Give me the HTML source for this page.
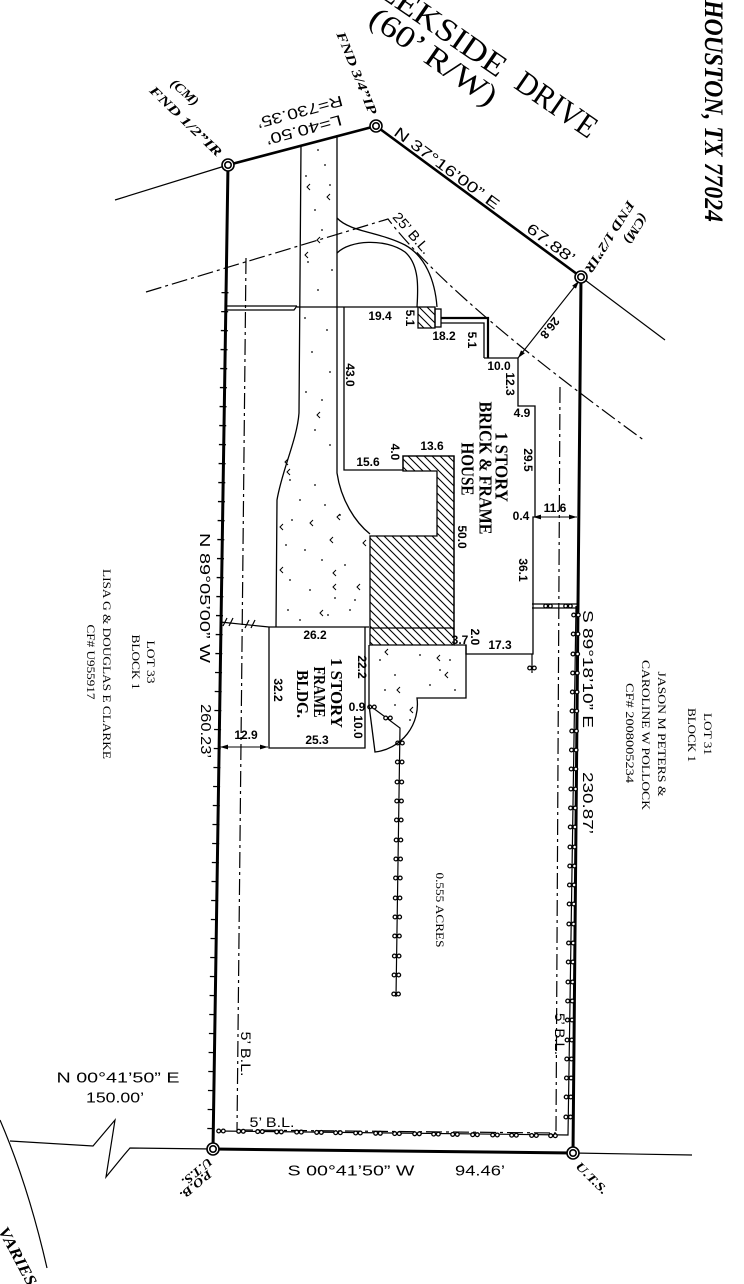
<!DOCTYPE html>
<html><head><meta charset="utf-8"><style>
html,body{margin:0;padding:0;background:#fff;}
svg{display:block;}
.s{font-family:"Liberation Sans",sans-serif;fill:#000;}
.d{font-family:"Liberation Sans",sans-serif;font-weight:bold;font-size:12px;fill:#000;}
.bi{font-family:"Liberation Serif",serif;font-weight:bold;font-style:italic;fill:#000;}
.bs{font-family:"Liberation Serif",serif;font-weight:bold;fill:#000;}
.r{font-family:"Liberation Serif",serif;fill:#000;}
</style></head><body>
<svg width="744" height="1284" viewBox="0 0 744 1284" xmlns="http://www.w3.org/2000/svg">
<defs>
<pattern id="h" patternUnits="userSpaceOnUse" width="8" height="8"><path d="M0,0 L8,8 M-1,7 L1,9 M7,-1 L9,1" stroke="#000" stroke-width="1.1"/></pattern>
<g id="m"><circle cx="-2.3" cy="0" r="1.9" fill="#fff" stroke="#000" stroke-width="1.3"/><circle cx="2.3" cy="0" r="1.9" fill="#fff" stroke="#000" stroke-width="1.3"/></g>
<marker id="a" viewBox="0 0 10 10" refX="10" refY="5" markerWidth="8" markerHeight="8" orient="auto-start-reverse" markerUnits="userSpaceOnUse"><path d="M0,2 L10,5 L0,8z" fill="#000"/></marker>
</defs>
<rect width="744" height="1284" fill="#fff"/>

<!-- thin extension lines -->
<g fill="none" stroke="#000" stroke-width="1.2">
<path d="M115,200 L228,165"/>
<path d="M581,277 L665,340"/>
<path d="M573,1153 L692,1155"/>
<path d="M10,1141 L93,1146 L115,1120 L106,1177 L124,1155 L130,1148 L213,1149"/>
<path d="M0,1120 Q28,1185 47,1268"/>
</g>

<!-- building lines (dash-dot) -->
<g fill="none" stroke="#000" stroke-width="1.2" stroke-dasharray="16 4 3 4">
<path d="M146,292 L388,219 Q450,300 645,441"/>
<path d="M246,258 L237,1131"/>
<path d="M560,387 L556,1131"/>
<path d="M237,1130 L556,1133"/>
</g>

<!-- boundary -->
<g fill="none" stroke="#000" stroke-linecap="round">
<path d="M228,165 L213,1149" stroke-width="3"/>
<path d="M581,277 L573,1153" stroke-width="3"/>
<path d="M213,1149 L573,1153" stroke-width="3"/>
<path d="M228,165 L376,126" stroke-width="2.6"/>
<path d="M376,126 L581,277" stroke-width="2.6"/>
<path d="M225,292 L210.6,1140" stroke-width="7" stroke-dasharray="1.3 17.7" stroke-linecap="butt"/>
</g>

<!-- fences -->
<g fill="none" stroke="#000" stroke-width="1.2">
<path d="M576,606 L568,1135 L218,1131"/>
<path d="M369,705 L400,728 L396,997"/>
<path d="M532,604 L577,604 M532,608 L577,608"/>
<path d="M532,654 L532,673"/>
<path d="M220,622 L269,627"/>
<path d="M223,626 L227,618 M229,626 L233,618 M245,628 L249,620 M251,628 L255,620"/>
</g>
<g>
<use href="#m" x="576" y="615"/><use href="#m" x="575.6" y="634"/><use href="#m" x="575.3" y="654"/><use href="#m" x="575" y="673"/><use href="#m" x="574.7" y="692"/><use href="#m" x="574.4" y="711"/><use href="#m" x="574.1" y="731"/><use href="#m" x="573.8" y="750"/><use href="#m" x="573.5" y="769"/><use href="#m" x="573.2" y="789"/><use href="#m" x="572.9" y="808"/><use href="#m" x="572.6" y="827"/><use href="#m" x="572.3" y="847"/><use href="#m" x="572.1" y="866"/><use href="#m" x="571.8" y="885"/><use href="#m" x="571.5" y="904"/><use href="#m" x="571.2" y="924"/><use href="#m" x="570.9" y="943"/><use href="#m" x="570.6" y="962"/><use href="#m" x="570.3" y="982"/><use href="#m" x="570" y="1001"/><use href="#m" x="569.7" y="1020"/><use href="#m" x="569.4" y="1040"/><use href="#m" x="569.1" y="1059"/><use href="#m" x="568.8" y="1078"/><use href="#m" x="568.5" y="1097"/><use href="#m" x="568.2" y="1117"/>
<use href="#m" x="221" y="1131"/><use href="#m" x="241" y="1131.3"/><use href="#m" x="260" y="1131.6"/><use href="#m" x="279" y="1131.9"/><use href="#m" x="299" y="1132.1"/><use href="#m" x="319" y="1132.4"/><use href="#m" x="338" y="1132.7"/><use href="#m" x="358" y="1133"/><use href="#m" x="378" y="1133.3"/><use href="#m" x="397" y="1133.6"/><use href="#m" x="417" y="1133.8"/><use href="#m" x="436" y="1134.1"/><use href="#m" x="455" y="1134.4"/><use href="#m" x="475" y="1134.7"/><use href="#m" x="495" y="1135"/><use href="#m" x="514" y="1135.2"/><use href="#m" x="534" y="1135.5"/><use href="#m" x="553" y="1135.7"/>
<use href="#m" x="372" y="707"/><use href="#m" x="388" y="718"/><use href="#m" x="400" y="743"/><use href="#m" x="399.7" y="762"/><use href="#m" x="399.4" y="782"/><use href="#m" x="399.1" y="801"/><use href="#m" x="398.8" y="820"/><use href="#m" x="398.5" y="840"/><use href="#m" x="398.2" y="859"/><use href="#m" x="397.9" y="878"/><use href="#m" x="397.6" y="898"/><use href="#m" x="397.3" y="917"/><use href="#m" x="397" y="936"/><use href="#m" x="396.7" y="956"/><use href="#m" x="396.4" y="975"/><use href="#m" x="396.1" y="994"/>
<use href="#m" x="548" y="606"/><use href="#m" x="568" y="606"/><use href="#m" x="532" y="668"/>
</g>

<!-- house, driveway, structures -->
<g fill="none" stroke="#000" stroke-width="1.3">
<path d="M226,306 L297,306 M226,310 L294,310 L297,306 M297,307 L418,307"/>
<path d="M301,145 L299,413 C297,440 282,470 277,500 L276,627"/>
<path d="M337,135 L337,473 C341,500 355,522 370,534"/>
<path d="M337,218 C350,232 380,232 405,245 C425,256 435,280 437,307"/>
<path d="M337,253 C350,240 385,238 405,252 C420,265 418,290 417,307"/>
<path d="M344,307 L344,470 L403,470 L403,456 L454,456 L454,645"/>
<path d="M403,456 L454,456 L454,645 L370,645 L370,536 L437,536 L437,471 L403,471 Z" fill="url(#h)"/>
<path d="M370,628 L454,628"/>
<rect x="418" y="307" width="17" height="21" fill="url(#h)"/>
<rect x="435" y="309" width="6" height="18"/>
<path d="M441,318 L488,318 L488,358" stroke-width="2.2"/>
<path d="M441,323 L484,323 L484,358"/>
<path d="M484,358 L518,358 L518,406 L535,406 L535,517 L533,517 L533,654 L466,654 L466,645"/>
<path d="M454,645 L466,645 L466,698 L417,698 A48,48 0 0 1 375,752 L369,705 M369,645 L369,705"/>
<path d="M269,627 L369,627 M269,627 L269,748 L365,748 L365,627"/>
<path d="M518,358 L579,281" marker-start="url(#a)" marker-end="url(#a)" stroke-width="1.1"/>
<path d="M533,517 L577,517" marker-start="url(#a)" marker-end="url(#a)" stroke-width="1.1"/>
<path d="M220,747 L268,747" marker-start="url(#a)" marker-end="url(#a)" stroke-width="1.1"/>
</g>

<!-- stipple -->
<g fill="#000">
<circle cx="318" cy="150" r="0.9"/><circle cx="325" cy="165" r="0.9"/><circle cx="306" cy="176" r="0.9"/><circle cx="330" cy="185" r="0.9"/><circle cx="315" cy="210" r="0.9"/><circle cx="322" cy="230" r="0.9"/><circle cx="308" cy="262" r="0.9"/><circle cx="332" cy="270" r="0.9"/><circle cx="318" cy="290" r="0.9"/><circle cx="305" cy="318" r="0.9"/><circle cx="327" cy="330" r="0.9"/><circle cx="312" cy="352" r="0.9"/><circle cx="330" cy="372" r="0.9"/><circle cx="306" cy="392" r="0.9"/><circle cx="322" cy="400" r="0.9"/><circle cx="315" cy="430" r="0.9"/><circle cx="330" cy="445" r="0.9"/>
<circle cx="290" cy="480" r="0.9"/><circle cx="300" cy="500" r="0.9"/><circle cx="315" cy="485" r="0.9"/><circle cx="325" cy="505" r="0.9"/><circle cx="292" cy="520" r="0.9"/><circle cx="340" cy="515" r="0.9"/><circle cx="286" cy="545" r="0.9"/><circle cx="305" cy="550" r="0.9"/><circle cx="322" cy="560" r="0.9"/><circle cx="345" cy="565" r="0.9"/><circle cx="290" cy="580" r="0.9"/><circle cx="310" cy="590" r="0.9"/><circle cx="335" cy="598" r="0.9"/><circle cx="355" cy="600" r="0.9"/><circle cx="288" cy="610" r="0.9"/><circle cx="300" cy="620" r="0.9"/><circle cx="328" cy="615" r="0.9"/><circle cx="350" cy="610" r="0.9"/>
<circle cx="380" cy="660" r="0.9"/><circle cx="395" cy="675" r="0.9"/><circle cx="420" cy="655" r="0.9"/><circle cx="440" cy="670" r="0.9"/><circle cx="455" cy="690" r="0.9"/><circle cx="385" cy="690" r="0.9"/><circle cx="430" cy="685" r="0.9"/><circle cx="410" cy="720" r="0.9"/><circle cx="395" cy="705" r="0.9"/><circle cx="450" cy="660" r="0.9"/>
</g>
<g fill="none" stroke="#000" stroke-width="1">
<path d="M310,184 l-3,3 l3,3 M330,194 l-3,3 l3,3 M308,252 l-3,3 l3,3 M320,237 l-3,3 l3,3 M320,412 l-3,3 l3,3 M288,459 l-3,3 l3,3 M290,469 l-3,3 l3,3 M283,524 l-3,3 l3,3 M313,520 l-3,3 l3,3 M340,514 l-3,3 l3,3 M333,537 l-3,3 l3,3 M283,567 l-3,3 l3,3 M336,570 l-3,3 l3,3 M336,584 l-3,3 l3,3 M360,584 l-3,3 l3,3 M323,610 l-3,3 l3,3 M366,540 l-3,3 l3,3"/>
<path d="M388,649 l-3,3 l3,3 M440,655 l-3,3 l3,3 M448,672 l-3,3 l3,3 M400,687 l-3,3 l3,3 M413,707 l-3,3 l3,3"/>
</g>

<!-- monuments -->
<g fill="#fff" stroke="#000" stroke-width="1.6">
<circle cx="228" cy="165" r="6"/><circle cx="228" cy="165" r="3.2"/>
<circle cx="376" cy="126" r="6"/><circle cx="376" cy="126" r="3.2"/>
<circle cx="581" cy="277" r="6"/><circle cx="581" cy="277" r="3.2"/>
<circle cx="213" cy="1149" r="6"/><circle cx="213" cy="1149" r="3.2"/>
<circle cx="573" cy="1153" r="6"/><circle cx="573" cy="1153" r="3.2"/>
</g>

<!-- street / headers -->
<text class="r" font-size="32" text-anchor="end" dy="0.35em" textLength="196" lengthAdjust="spacingAndGlyphs" transform="translate(504,69) rotate(34.6)">CREEKSIDE</text>
<text class="r" font-size="32" text-anchor="middle" dy="0.35em" textLength="92" lengthAdjust="spacingAndGlyphs" transform="translate(557,104) rotate(34.6)">DRIVE</text>
<text class="r" font-size="31" text-anchor="middle" dy="0.35em" textLength="148" lengthAdjust="spacingAndGlyphs" transform="translate(434,56) rotate(34.8)">(60’ R/W)</text>
<text class="bi" font-size="26" text-anchor="middle" dy="0.35em" textLength="222" lengthAdjust="spacingAndGlyphs" transform="translate(714,111) rotate(90)">HOUSTON, TX 77024</text>

<text class="bi" font-size="13" text-anchor="middle" dy="0.35em" textLength="88" lengthAdjust="spacingAndGlyphs" transform="translate(357,73) rotate(68)">FND 3/4”IP</text>
<text class="bi" font-size="13" text-anchor="middle" dy="0.35em" textLength="33" lengthAdjust="spacingAndGlyphs" transform="translate(185,92) rotate(42)">(CM)</text>
<text class="bi" font-size="13" text-anchor="middle" dy="0.35em" textLength="95" lengthAdjust="spacingAndGlyphs" transform="translate(186,121) rotate(44)">FND 1/2”IR</text>
<text class="bi" font-size="13" text-anchor="middle" dy="0.35em" textLength="82" lengthAdjust="spacingAndGlyphs" transform="translate(610,237) rotate(122)">FND 1/2”IR</text>
<text class="bi" font-size="13" text-anchor="middle" dy="0.35em" textLength="33" lengthAdjust="spacingAndGlyphs" transform="translate(636,229) rotate(122)">(CM)</text>
<text class="bi" font-size="12" text-anchor="middle" dy="0.35em" textLength="38" lengthAdjust="spacingAndGlyphs" transform="translate(196,1185) rotate(140)">P.O.B.</text>
<text class="bi" font-size="12" text-anchor="middle" dy="0.35em" textLength="36" lengthAdjust="spacingAndGlyphs" transform="translate(197,1172) rotate(140)">U.T.S.</text>
<text class="bi" font-size="12" text-anchor="middle" dy="0.35em" textLength="40" lengthAdjust="spacingAndGlyphs" transform="translate(592,1178) rotate(45)">U.T.S.</text>
<text class="bi" font-size="16" text-anchor="middle" dy="0.35em" textLength="64" lengthAdjust="spacingAndGlyphs" transform="translate(18,1256) rotate(62)">VARIES</text>

<!-- bearings and distances -->
<g class="s" font-size="15" text-anchor="middle">
<text dy="0.35em" textLength="130" lengthAdjust="spacingAndGlyphs" transform="translate(205,598) rotate(90)">N 89°05’00”  W</text>
<text dy="0.35em" textLength="54" lengthAdjust="spacingAndGlyphs" transform="translate(206,731) rotate(90)">260.23’</text>
<text dy="0.35em" textLength="118" lengthAdjust="spacingAndGlyphs" transform="translate(588,669) rotate(90)">S 89°18’10” E</text>
<text dy="0.35em" textLength="62" lengthAdjust="spacingAndGlyphs" transform="translate(588,803) rotate(90)">230.87’</text>
<text dy="0.35em" textLength="127" lengthAdjust="spacingAndGlyphs" transform="translate(351,1170)">S 00°41’50”  W</text>
<text dy="0.35em" textLength="50" lengthAdjust="spacingAndGlyphs" transform="translate(480,1170)">94.46’</text>
<text dy="0.35em" textLength="123" lengthAdjust="spacingAndGlyphs" transform="translate(118,1077)">N 00°41’50”  E</text>
<text dy="0.35em" textLength="58" lengthAdjust="spacingAndGlyphs" transform="translate(115,1097)">150.00’</text>
<text dy="0.35em" textLength="127" lengthAdjust="spacingAndGlyphs" transform="translate(447,168) rotate(36.5)">N 37°16’00”  E</text>
<text dy="0.35em" textLength="56" lengthAdjust="spacingAndGlyphs" transform="translate(551,243) rotate(36.5)">67.88’</text>
<text dy="0.35em" textLength="78" lengthAdjust="spacingAndGlyphs" transform="translate(304,130) rotate(165)">L=40.50’</text>
<text dy="0.35em" textLength="88" lengthAdjust="spacingAndGlyphs" transform="translate(300,112) rotate(165)">R=730.35’</text>
</g>
<g class="s" font-size="14" text-anchor="middle">
<text dy="0.35em" textLength="50" lengthAdjust="spacingAndGlyphs" transform="translate(412,233) rotate(49)">25’ B.L.</text>
<text dy="0.35em" textLength="45" lengthAdjust="spacingAndGlyphs" transform="translate(246,1054) rotate(90)">5’ B.L.</text>
<text dy="0.35em" textLength="42" lengthAdjust="spacingAndGlyphs" transform="translate(560,1034) rotate(90)">5’ B.L.</text>
<text dy="0.35em" textLength="45" lengthAdjust="spacingAndGlyphs" transform="translate(272,1122)">5’ B.L.</text>
</g>

<!-- dimension labels -->
<g class="d" text-anchor="middle">
<text dy="0.35em" transform="translate(380,316)">19.4</text>
<text dy="0.35em" transform="translate(410,318) rotate(90)">5.1</text>
<text dy="0.35em" transform="translate(444,336)">18.2</text>
<text dy="0.35em" transform="translate(472,340) rotate(90)">5.1</text>
<text dy="0.35em" transform="translate(499,366)">10.0</text>
<text dy="0.35em" transform="translate(510,384) rotate(90)">12.3</text>
<text dy="0.35em" transform="translate(522,413)">4.9</text>
<text dy="0.35em" transform="translate(528,460) rotate(90)">29.5</text>
<text dy="0.35em" transform="translate(521,516)">0.4</text>
<text dy="0.35em" transform="translate(555,508)">11.6</text>
<text dy="0.35em" transform="translate(523,570) rotate(90)">36.1</text>
<text dy="0.35em" transform="translate(350,375) rotate(90)">43.0</text>
<text dy="0.35em" transform="translate(368,462)">15.6</text>
<text dy="0.35em" transform="translate(395,452) rotate(90)">4.0</text>
<text dy="0.35em" transform="translate(432,446)">13.6</text>
<text dy="0.35em" transform="translate(462,537) rotate(90)">50.0</text>
<text dy="0.35em" transform="translate(315,635)">26.2</text>
<text dy="0.35em" transform="translate(278,690) rotate(90)">32.2</text>
<text dy="0.35em" transform="translate(317,740)">25.3</text>
<text dy="0.35em" transform="translate(362,667) rotate(90)">22.2</text>
<text dy="0.35em" transform="translate(357,707)">0.9</text>
<text dy="0.35em" transform="translate(358,727) rotate(90)">10.0</text>
<text dy="0.35em" transform="translate(246,735)">12.9</text>
<text dy="0.35em" transform="translate(460,640)">3.7</text>
<text dy="0.35em" transform="translate(475,637) rotate(90)">2.0</text>
<text dy="0.35em" transform="translate(500,645)">17.3</text>
<text dy="0.35em" transform="translate(550,328) rotate(128)">26.8</text>
</g>

<!-- building labels -->
<g class="bs" font-size="18" text-anchor="middle">
<text dy="0.35em" textLength="70" lengthAdjust="spacingAndGlyphs" transform="translate(502,467) rotate(90)">1 STORY</text>
<text dy="0.35em" textLength="133" lengthAdjust="spacingAndGlyphs" transform="translate(486,468) rotate(90)">BRICK &amp; FRAME</text>
<text dy="0.35em" textLength="53" lengthAdjust="spacingAndGlyphs" transform="translate(468,469) rotate(90)">HOUSE</text>
</g>
<g class="bs" font-size="17" text-anchor="middle">
<text dy="0.35em" textLength="70" lengthAdjust="spacingAndGlyphs" transform="translate(337,693) rotate(90)">1 STORY</text>
<text dy="0.35em" textLength="51" lengthAdjust="spacingAndGlyphs" transform="translate(320,692) rotate(90)">FRAME</text>
<text dy="0.35em" textLength="48" lengthAdjust="spacingAndGlyphs" transform="translate(303,694) rotate(90)">BLDG.</text>
</g>

<!-- lot labels -->
<g class="r" font-size="12" text-anchor="middle">
<text dy="0.35em" textLength="43" lengthAdjust="spacingAndGlyphs" transform="translate(151,662) rotate(90)">LOT 33</text>
<text dy="0.35em" textLength="55" lengthAdjust="spacingAndGlyphs" transform="translate(136,662) rotate(90)">BLOCK 1</text>
<text dy="0.35em" textLength="190" lengthAdjust="spacingAndGlyphs" transform="translate(107,664) rotate(90)">LISA G &amp; DOUGLAS E CLARKE</text>
<text dy="0.35em" textLength="75" lengthAdjust="spacingAndGlyphs" transform="translate(91,662) rotate(90)">CF# U955917</text>
<text dy="0.35em" textLength="42" lengthAdjust="spacingAndGlyphs" transform="translate(708,734) rotate(90)">LOT 31</text>
<text dy="0.35em" textLength="54" lengthAdjust="spacingAndGlyphs" transform="translate(692,735) rotate(90)">BLOCK 1</text>
<text dy="0.35em" textLength="125" lengthAdjust="spacingAndGlyphs" transform="translate(662,734) rotate(90)">JASON M PETERS &amp;</text>
<text dy="0.35em" textLength="150" lengthAdjust="spacingAndGlyphs" transform="translate(646,735) rotate(90)">CAROLINE W POLLOCK</text>
<text dy="0.35em" textLength="100" lengthAdjust="spacingAndGlyphs" transform="translate(630,733) rotate(90)">CF# 2008005234</text>
<text dy="0.35em" textLength="75" lengthAdjust="spacingAndGlyphs" transform="translate(440,910) rotate(90)">0.555 ACRES</text>
</g>
</svg>
</body></html>
